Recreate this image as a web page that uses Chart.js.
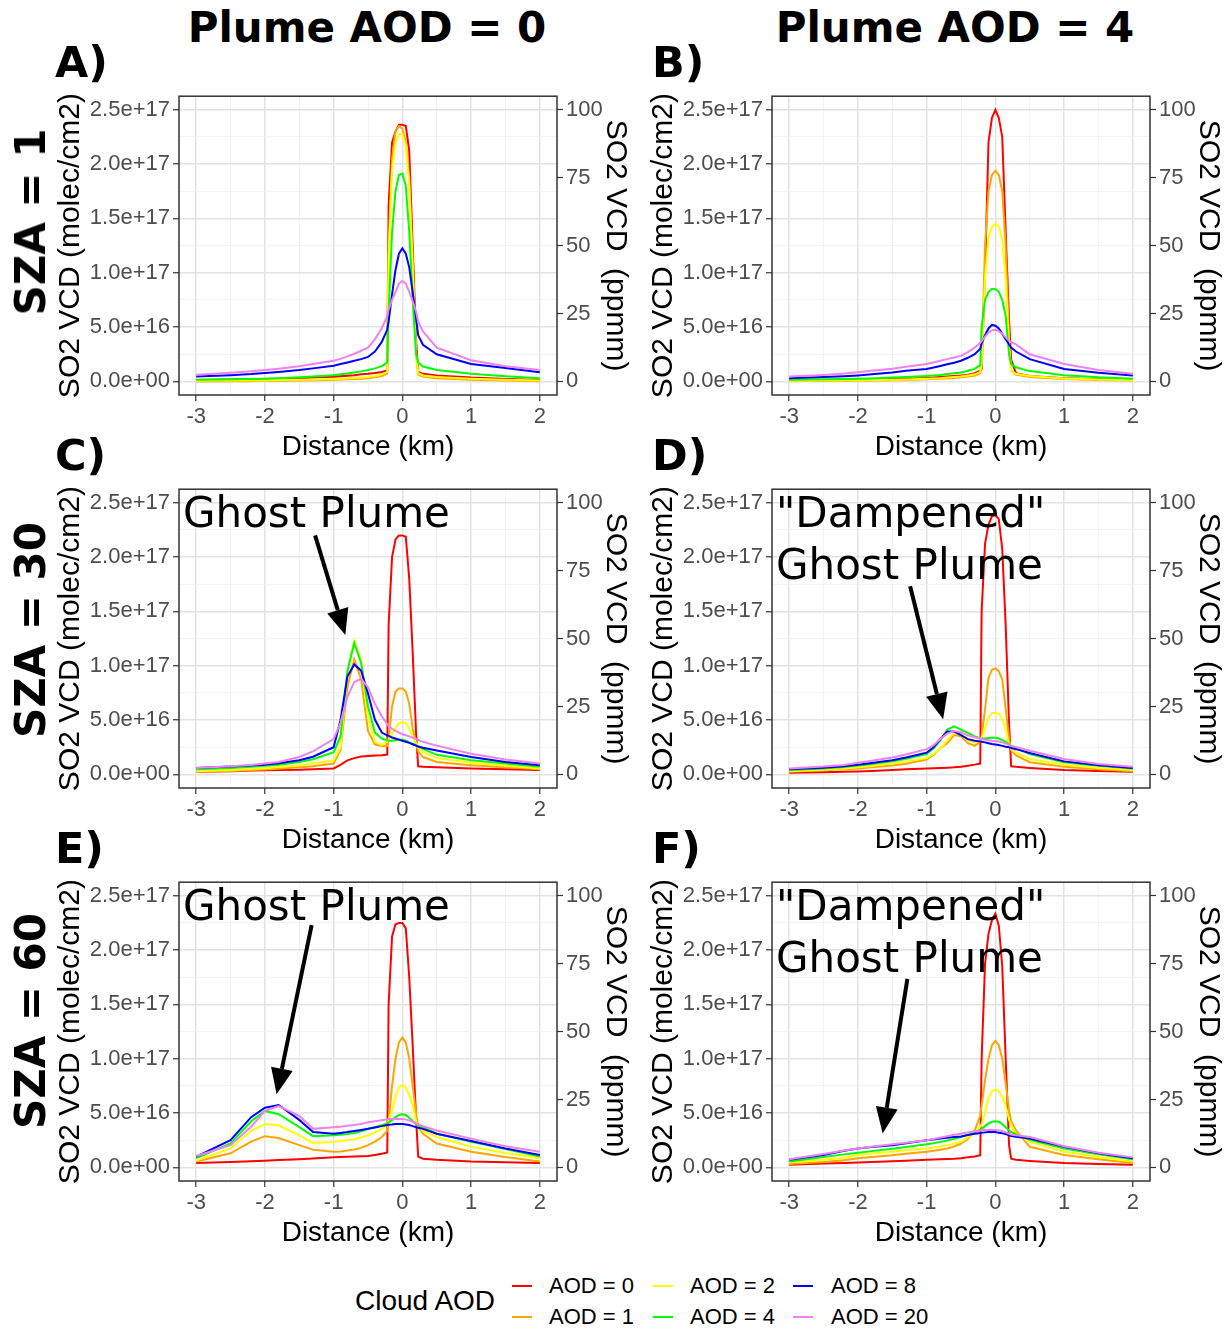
<!DOCTYPE html>
<html>
<head>
<meta charset="utf-8">
<title>SO2 VCD ghost plume</title>
<script src="https://cdn.jsdelivr.net/npm/chart.js@4.4.0/dist/chart.umd.min.js"></script>
<style>
  html, body { margin: 0; padding: 0; background: #fff; overflow: hidden; }
  #wrap { position: relative; width: 1227px; height: 1329px; overflow: hidden; }
  canvas { position: absolute; }
  .big { position: absolute; font-family: "DejaVu Sans", sans-serif; font-weight: bold; color: #000; white-space: nowrap; line-height: 1; }
  .leg { position: absolute; font-family: "Liberation Sans", Arial, sans-serif; color: #000; white-space: nowrap; line-height: 1; }
  .key { position: absolute; height: 2px; width: 20px; }
</style>
</head>
<body>
<div id="wrap"></div>
<script>
// distance along track (km), shared by every series
const distance = [-3, -2.5, -2.2, -2, -1.8, -1.5, -1.3, -1, -0.9, -0.8, -0.7, -0.6, -0.5, -0.4, -0.3, -0.22,
  -0.2, -0.15, -0.1, -0.05, 0, 0.05, 0.1, 0.15, 0.2, 0.23, 0.3, 0.5, 1, 1.5, 2];

const aodLabels = ['AOD = 0', 'AOD = 1', 'AOD = 2', 'AOD = 4', 'AOD = 8', 'AOD = 20'];
const aodColors = ['#FF0000', '#FFA500', '#FFFF00', '#00FF00', '#0000FF', '#EE82EE'];

const xTicks = [-3, -2, -1, 0, 1, 2];
const xGrid = [-3, -2.5, -2, -1.5, -1, -0.5, 0, 0.5, 1, 1.5, 2];
const leftTickValues = [0, 20, 40, 60, 80, 100];   // positions in ppmm
const leftTickLabels = ['0.0e+00', '5.0e+16', '1.0e+17', '1.5e+17', '2.0e+17', '2.5e+17'];
const yGrid = [0, 10, 20, 30, 40, 50, 60, 70, 80, 90, 100];
const rightTicks = [0, 25, 50, 75, 100];

// SO2 VCD in ppmm, one row per cloud AOD (0, 1, 2, 4, 8, 20)
// A) SZA 1, plume AOD 0
const vcdA = [
  [0.5,0.7,0.8,0.9,1.0,1.2,1.4,1.7,1.9,2.1,2.3,2.6,2.8,3.1,3.5,4.0,65,88,92,94.5,94.5,94,85,50,15,3.5,2.8,2.2,1.4,0.9,0.5],
  [0.0,0.1,0.1,0.2,0.2,0.3,0.4,0.6,0.7,0.8,0.9,1.0,1.2,1.5,2.0,3.0,50,82,92,94,93,88,75,45,10,2.5,1.8,1.2,0.6,0.3,0.1],
  [0.2,0.3,0.3,0.4,0.5,0.6,0.7,0.9,1.0,1.1,1.3,1.4,1.6,2.0,2.5,3.5,45,78,88,91,91,87,72,42,10,3.0,2.2,1.6,1.0,0.6,0.3],
  [0.6,0.8,0.9,1.0,1.2,1.5,1.8,2.3,2.6,2.9,3.3,3.7,4.2,4.8,5.6,7.0,25,55,70,76,76.5,72,55,30,10,7.0,5.5,4.2,2.8,1.9,1.2],
  [1.8,2.3,2.7,3.1,3.5,4.2,4.8,5.8,6.4,7.0,7.6,8.2,9.0,11,14.5,19,22,32,41,47,49,47,42,33,23,17,13.5,10,6.4,4.9,3.4],
  [2.5,3.2,3.7,4.2,4.7,5.6,6.4,7.6,8.3,9.2,10.2,11.3,12.4,15.5,19.6,24,26.5,30,33,36,37,36,33,29.5,25.6,22,18.4,12.4,7.8,5.6,4.2]
];
// B) SZA 1, plume AOD 4
const vcdB = [
  [0.3,0.4,0.5,0.6,0.7,0.9,1.0,1.3,1.4,1.6,1.8,2.0,2.2,2.5,3.0,4.0,4.5,40,88,97,100,97,90,55,22,8,3.0,2.0,1.2,0.8,0.5],
  [0.1,0.2,0.2,0.3,0.3,0.4,0.5,0.8,0.9,1.0,1.1,1.3,1.5,1.8,2.2,3.0,8,50,70,76,77.5,76,70,50,15,4,2.5,1.6,0.9,0.5,0.3],
  [0.2,0.3,0.4,0.4,0.5,0.6,0.7,1.0,1.1,1.2,1.4,1.6,1.8,2.2,2.6,3.5,6,38,53,57,58,57,52,38,12,4,2.8,2.0,1.1,0.7,0.4],
  [0.6,0.8,0.9,1.0,1.1,1.4,1.6,2.0,2.2,2.4,2.7,3.0,3.3,3.9,4.6,6.0,20,30,33,34,34,33,30,24,10,6.4,5.2,3.8,2.3,1.5,1.0],
  [1.2,1.6,1.9,2.2,2.6,3.3,3.9,4.6,5.1,5.7,6.3,6.9,7.6,8.7,10,12,14,17,19.5,20.8,20.5,19.5,17.5,15.5,13.6,12.5,11,8.2,4.6,3.2,2.2],
  [1.8,2.4,2.9,3.4,3.9,4.7,5.4,6.4,7.0,7.6,8.2,8.8,9.4,10.8,12.5,14.2,14.8,16.5,18,18.8,19,18.5,17.5,16.2,15,14.5,13.6,10,6.4,4.2,2.8]
];
// C) SZA 30, plume AOD 0
const vcdC = [
  [1.0,1.2,1.4,1.5,1.6,1.7,1.9,2.2,3.5,5.2,6.0,6.6,6.8,7.0,7.1,7.3,55,80,86.5,88,88,87.5,72,45,15,3,2.8,2.6,2.2,1.9,1.6],
  [1.0,1.3,1.6,1.8,2.1,2.6,3.0,4.0,9,32,42.4,35,16,11,10.5,10.5,13,25,30.5,31.6,31.6,30.5,26,17,11,8.5,6.4,4.6,3.4,2.6,1.9],
  [1.2,1.6,2.0,2.3,2.7,3.3,4.0,5.2,10,38,49.2,42,21,12,10.8,12,13,15,17,18.8,19.2,18.8,17,14,11.8,10,8.2,6.0,4.3,3.2,2.2],
  [1.9,2.4,2.8,3.2,3.6,4.6,5.6,8.2,14,38,48.4,41,25,15.4,13.2,12.6,12.4,12.4,12.6,12.8,12.8,12.4,11.8,11.2,10.8,10.3,9.4,7.2,5.2,4.0,2.8],
  [2.4,2.9,3.3,3.6,4.1,5.2,6.5,10,20,36,40.5,38.2,29.8,20.2,15.4,14.4,14.2,13.6,13.2,12.8,12.4,12.0,11.6,11.1,10.6,10.3,9.8,8.8,6.4,4.6,3.4],
  [2.4,3.0,3.5,4.0,4.6,6.4,8.5,13,19,28.6,34,35.2,32,26,21.4,18.5,17.8,16.8,16,15.4,14.8,14.4,14,13.5,13,12.7,12,10.6,7.6,5.5,4.0]
];
// D) SZA 30, plume AOD 4
const vcdD = [
  [0.6,0.8,1.0,1.1,1.3,1.6,1.9,2.2,2.3,2.4,2.5,2.6,2.8,3.2,3.6,4.0,60,85,92,95,95.5,94,83,55,18,3,2.8,2.4,1.6,1.3,1.0],
  [1.0,1.5,1.9,2.2,2.6,3.3,3.9,5.5,7.2,9.7,11.5,14.5,14,11.5,10.5,12,14,24,35.6,38.5,39,38,35,24,13,9,7,4.5,2.8,1.9,1.2],
  [1.2,1.7,2.2,2.6,3.1,4.0,4.8,6.0,7.5,9.5,12.5,15.5,15,12.5,11.7,12.5,13.5,17,21,22.5,22.7,22.3,20.5,16.5,10.5,9.3,8,5.7,3.6,2.4,1.6],
  [1.6,2.2,2.7,3.3,3.8,4.8,5.8,7.5,9.5,12.5,16.5,17.7,16.5,15.3,14,13.3,13.2,13.2,13.4,13.5,13.5,13.2,12.6,12,11,10.6,9.8,7.5,4.5,3.2,2.2],
  [1.9,2.5,3.0,3.6,4.2,5.2,6.2,8.0,10,13,15.8,15.8,14.5,13,12.4,12.1,12,11.8,11.5,11.2,11,10.8,10.5,10.2,10,9.7,9.3,7.9,4.8,3.4,2.4],
  [2.2,2.9,3.5,4.3,5.0,6.2,7.3,9.3,10.7,13,15,16,15.5,14.4,13.7,13.2,13,12.8,12.6,12.4,12.3,12.1,11.8,11.4,10.8,10.5,10.1,8.7,5.7,3.8,2.8]
];
// E) SZA 60, plume AOD 0
const vcdE = [
  [1.6,2.0,2.3,2.5,2.7,3.0,3.3,3.7,3.8,3.9,4.0,4.1,4.2,4.6,5.0,5.5,60,85,89.5,90,90,88,70,45,18,4,3.2,2.8,2.2,1.9,1.6],
  [2.2,5.2,9.5,11.5,10.8,8.2,6.5,5.8,5.9,6.2,6.6,7.2,8.2,9.5,11.2,13.5,17,30,40,46,47.8,46,40,30,19.6,15,12.4,8.8,5.8,3.8,2.2],
  [2.5,7.0,13.5,16,15.5,11.8,9.0,9.4,9.7,10,10.4,11,11.8,12.8,14.2,16,17.5,21,26,29.5,30.4,29.5,26.5,23,17,15,13.5,11.2,7.6,5.3,3.4],
  [3.4,8.8,17,20.8,19.6,14.8,11.5,11.8,12,12.3,12.7,13.3,14.2,14.8,15.5,16.2,16.6,17.5,18.5,19.3,19.6,19.3,18.3,17,16,15.5,14.8,12.4,9.4,6.8,4.0],
  [4.0,10,18.5,22,23,17.5,13,12.4,12.7,13,13.4,13.8,14.2,14.7,15.2,15.6,15.7,15.8,16,16,16,15.8,15.6,15.2,14.8,14.6,14.2,12.4,9.7,7.0,4.6],
  [4.2,8.2,15,20.8,22.6,19,14.2,14.8,15,15.3,15.6,16,16.6,17,17.4,17.7,17.8,17.8,17.8,17.8,17.8,17.6,17.3,16.8,16.2,15.9,15.2,13.6,10.6,7.8,5.8]
];
// F) SZA 60, plume AOD 4
const vcdF = [
  [1.0,1.4,1.6,1.8,2.0,2.3,2.5,2.8,2.9,3.0,3.1,3.2,3.4,3.7,4.0,4.5,40,75,86,91,93.4,89,74,40,8,3.2,2.8,2.4,1.6,1.3,1.0],
  [1.3,2.0,2.6,3.4,3.8,4.5,5.0,5.8,6.1,6.5,7.0,7.7,8.8,10.5,13.6,19,23,32,40,45,46.6,45,40,31,20.8,17,13.6,7.6,4.6,3.0,1.6],
  [1.8,2.8,3.6,4.6,5.1,5.8,6.3,7.0,7.3,7.7,8.2,8.8,9.4,11,13,15,16,20,25.6,28,28.6,28,26,23,17.5,15.5,12.5,9.4,5.8,3.8,2.2],
  [2.2,3.8,4.8,5.4,6.0,6.9,7.5,8.5,8.9,9.4,9.9,10.5,11.2,12,13,13.8,14.2,15.2,16.2,16.8,17,16.8,16,14.8,13.6,13,12.2,10.2,7.0,4.8,3.0],
  [2.8,4.6,6.1,7.0,7.5,8.2,8.9,10,10.3,10.6,10.9,11.2,11.4,11.9,12.4,12.7,12.8,12.9,13,13,13,12.8,12.6,12.3,11.8,11.6,11.3,10.6,7.6,5.2,3.4],
  [3.0,4.9,6.2,7.0,7.6,8.5,9.1,10,10.5,11,11.5,12,12.4,12.9,13.3,13.6,13.7,13.8,13.8,13.8,13.8,13.6,13.3,12.9,12.4,12.1,11.8,11.2,7.8,5.4,3.7]
];

const colTitles = ['Plume AOD = 0', 'Plume AOD = 4'];
const rowTitles = ['SZA = 1', 'SZA = 30', 'SZA = 60'];

const panels = [
  { tag: 'A)', col: 0, row: 0, vcd: vcdA },
  { tag: 'B)', col: 1, row: 0, vcd: vcdB },
  { tag: 'C)', col: 0, row: 1, vcd: vcdC,
    note: { lines: ['Ghost Plume'], from: [-1.27, 88], to: [-0.83, 51.3] } },
  { tag: 'D)', col: 1, row: 1, vcd: vcdD,
    note: { lines: ['"Dampened"', 'Ghost Plume'], from: [-1.24, 69.3], to: [-0.76, 20.3] } },
  { tag: 'E)', col: 0, row: 2, vcd: vcdE,
    note: { lines: ['Ghost Plume'], from: [-1.32, 89.2], to: [-1.83, 26.9] } },
  { tag: 'F)', col: 1, row: 2, vcd: vcdF,
    note: { lines: ['"Dampened"', 'Ghost Plume'], from: [-1.28, 69.4], to: [-1.64, 12.5] } }
];

// page layout (plot area corners)
const plotLeft = [179, 772];
const plotTop = [89, 482, 875];
const plotW = 378, plotH = 306;
const padL = 129, padR = 83, padT = 9, padB = 70;

const SANS = '"Liberation Sans", Arial, sans-serif';
const wrap = document.getElementById('wrap');

function addDiv(cls, text, css) {
  const d = document.createElement('div');
  d.className = cls;
  d.textContent = text;
  Object.assign(d.style, css);
  wrap.appendChild(d);
  return d;
}

const framePlugin = {
  id: 'frame',
  afterDatasetsDraw(chart) {
    const { ctx, chartArea: a } = chart;
    ctx.save();
    ctx.strokeStyle = '#333333';
    ctx.lineWidth = 1.5;
    ctx.strokeRect(a.left, a.top, a.right - a.left, a.bottom - a.top);
    ctx.restore();
  }
};

const notePlugin = {
  id: 'note',
  afterDatasetsDraw(chart, args, opts) {
    if (!opts || !opts.lines) return;
    const { ctx, chartArea: a } = chart;
    const sx = chart.scales.x, sy = chart.scales.y;
    ctx.save();
    ctx.fillStyle = '#000';
    ctx.strokeStyle = '#000';
    ctx.font = '42px "DejaVu Sans"';
    ctx.textBaseline = 'alphabetic';
    opts.lines.forEach((t, i) => ctx.fillText(t, a.left + 4, a.top + 38 + i * 52));

    const x0 = sx.getPixelForValue(opts.from[0]), y0 = sy.getPixelForValue(opts.from[1]);
    const x1 = sx.getPixelForValue(opts.to[0]), y1 = sy.getPixelForValue(opts.to[1]);
    const ang = Math.atan2(y1 - y0, x1 - x0);
    const hl = 26, hw = 11;
    const bx = x1 - hl * Math.cos(ang), by = y1 - hl * Math.sin(ang);
    ctx.lineWidth = 4;
    ctx.beginPath();
    ctx.moveTo(x0, y0);
    ctx.lineTo(bx, by);
    ctx.stroke();
    ctx.beginPath();
    ctx.moveTo(x1, y1);
    ctx.lineTo(bx + hw * Math.sin(ang), by - hw * Math.cos(ang));
    ctx.lineTo(bx - hw * Math.sin(ang), by + hw * Math.cos(ang));
    ctx.closePath();
    ctx.fill();
    ctx.restore();
  }
};

function gridColor(major) { return major ? '#E3E3E3' : '#F1F1F1'; }
const setTicks = vals => s => { s.ticks = vals.map(v => ({ value: v })); };

function makePanel(p) {
  const cv = document.createElement('canvas');
  cv.width = padL + plotW + padR;
  cv.height = padT + plotH + padB;
  cv.style.left = (plotLeft[p.col] - padL) + 'px';
  cv.style.top = (plotTop[p.row] - padT) + 'px';
  wrap.appendChild(cv);

  const datasets = p.vcd.map((ys, i) => ({
    label: aodLabels[i],
    data: distance.map((x, k) => ({ x: x, y: ys[k] })),
    borderColor: aodColors[i],
    borderWidth: 2,
    pointRadius: 0,
    tension: 0,
    fill: false,
    order: 5 - i
  }));

  new Chart(cv, {
    type: 'line',
    data: { datasets: datasets },
    options: {
      responsive: false,
      animation: false,
      events: [],
      layout: { padding: { top: padT, left: 0, right: 0, bottom: 0 } },
      plugins: { legend: { display: false }, tooltip: { enabled: false }, note: p.note || {} },
      scales: {
        x: {
          type: 'linear', min: -3.25, max: 2.25,
          afterBuildTicks: setTicks(xGrid),
          afterFit: s => { s.height = padB; },
          border: { display: false },
          grid: {
            color: c => gridColor(xTicks.includes(c.tick.value)),
            lineWidth: c => xTicks.includes(c.tick.value) ? 1.5 : 0.8,
            tickColor: c => xTicks.includes(c.tick.value) ? '#333333' : 'rgba(0,0,0,0)',
            tickWidth: 1.2, tickLength: 6
          },
          ticks: {
            autoSkip: false, maxRotation: 0, padding: 3,
            color: '#4D4D4D', font: { family: SANS, size: 22 },
            callback: v => xTicks.includes(v) ? String(v) : ''
          },
          title: { display: true, text: 'Distance (km)', color: '#000', font: { family: SANS, size: 28 }, padding: { top: 0, bottom: 1 } }
        },
        y: {
          position: 'left', min: -5, max: 105,
          afterBuildTicks: setTicks(yGrid),
          afterFit: s => { s.width = padL; },
          border: { display: false },
          grid: {
            color: c => gridColor(leftTickValues.includes(c.tick.value)),
            lineWidth: c => leftTickValues.includes(c.tick.value) ? 1.5 : 0.8,
            tickColor: c => leftTickValues.includes(c.tick.value) ? '#333333' : 'rgba(0,0,0,0)',
            tickWidth: 1.2, tickLength: 6
          },
          ticks: {
            autoSkip: false, padding: 3,
            color: '#4D4D4D', font: { family: SANS, size: 22 },
            callback: v => { const i = leftTickValues.indexOf(v); return i < 0 ? '' : leftTickLabels[i]; }
          },
          title: { display: true, text: 'SO2 VCD (molec/cm2)', color: '#000', font: { family: SANS, size: 30 }, padding: { top: 3, bottom: 0 } }
        },
        y2: {
          position: 'right', min: -5, max: 105,
          afterBuildTicks: setTicks(rightTicks),
          afterFit: s => { s.width = padR; },
          border: { display: false },
          grid: { drawOnChartArea: false, tickColor: '#333333', tickWidth: 1.2, tickLength: 6 },
          ticks: {
            autoSkip: false, padding: 3,
            color: '#4D4D4D', font: { family: SANS, size: 22 },
            callback: v => String(v)
          },
          title: { display: true, text: 'SO2 VCD  (ppmm)', color: '#000', font: { family: SANS, size: 30 }, padding: { top: 7, bottom: 0 } }
        }
      }
    },
    plugins: [framePlugin, notePlugin]
  });

  // panel letter
  addDiv('big', p.tag, { left: (p.col === 0 ? 55 : 652) + 'px', top: (plotTop[p.row] - 12 - 0.846 * 43) + 'px', fontSize: '43px' });
}

panels.forEach(makePanel);

// column headers
const colCenters = [367, 955];
colTitles.forEach((t, i) => {
  addDiv('big', t, { left: (colCenters[i] - 250) + 'px', width: '500px', textAlign: 'center', top: (43 - 0.846 * 42) + 'px', fontSize: '42px' });
});

// row headers (rotated)
const rowCenters = [222, 630, 1021];
rowTitles.forEach((t, i) => {
  addDiv('big', t, { left: '31px', top: rowCenters[i] + 'px', fontSize: '42px', transform: 'translate(-50%, -50%) rotate(-90deg)' });
});

// legend
addDiv('leg', 'Cloud AOD', { left: '355px', top: (1301 - 14) + 'px', fontSize: '28px' });
const keyX = [512, 653, 793], labX = [549, 690, 831], rowY = [1286, 1317];
aodLabels.forEach((lab, i) => {
  const c = Math.floor(i / 2), r = i % 2;
  const k = document.createElement('div');
  k.className = 'key';
  Object.assign(k.style, { left: keyX[c] + 'px', top: (rowY[r] - 1) + 'px', background: aodColors[i] });
  wrap.appendChild(k);
  addDiv('leg', lab, { left: labX[c] + 'px', top: (rowY[r] - 11) + 'px', fontSize: '22px' });
});
</script>
</body>
</html>
